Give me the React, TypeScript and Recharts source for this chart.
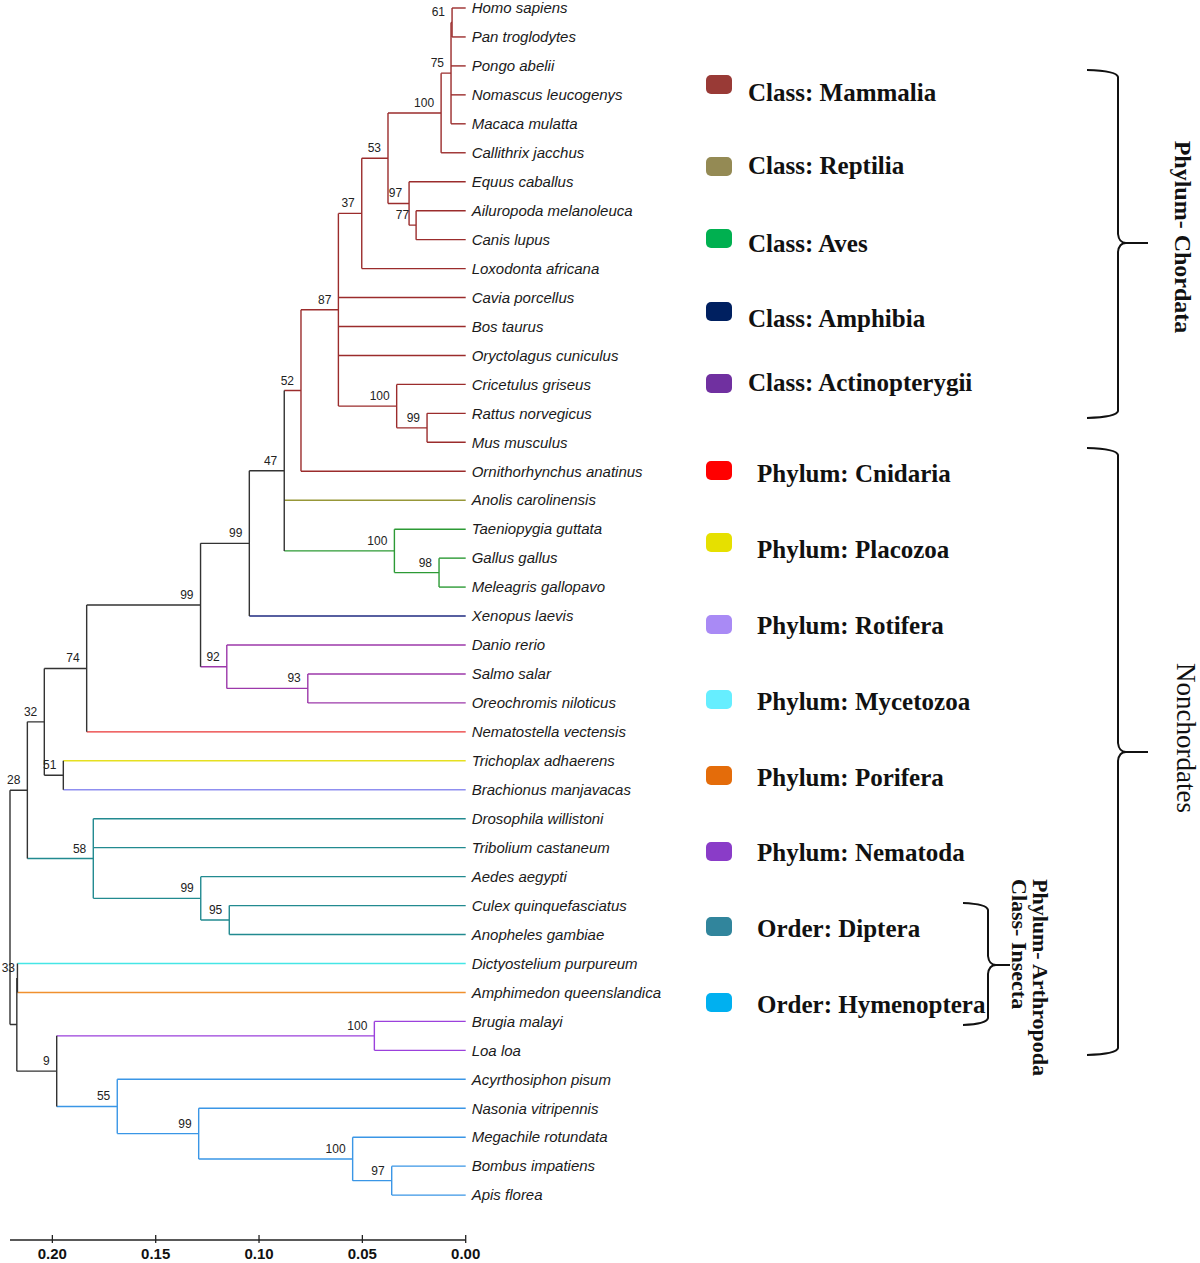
import React from "react";
import { ComposedChart, Line, Scatter, XAxis, YAxis } from "recharts";

// tips, top to bottom
const LEAF_NAMES = [
  "Homo sapiens", "Pan troglodytes", "Pongo abelii", "Nomascus leucogenys",
  "Macaca mulatta", "Callithrix jacchus", "Equus caballus", "Ailuropoda melanoleuca",
  "Canis lupus", "Loxodonta africana", "Cavia porcellus", "Bos taurus",
  "Oryctolagus cuniculus", "Cricetulus griseus", "Rattus norvegicus", "Mus musculus",
  "Ornithorhynchus anatinus", "Anolis carolinensis", "Taeniopygia guttata", "Gallus gallus",
  "Meleagris gallopavo", "Xenopus laevis", "Danio rerio", "Salmo salar",
  "Oreochromis niloticus", "Nematostella vectensis", "Trichoplax adhaerens", "Brachionus manjavacas",
  "Drosophila willistoni", "Tribolium castaneum", "Aedes aegypti", "Culex quinquefasciatus",
  "Anopheles gambiae", "Dictyostelium purpureum", "Amphimedon queenslandica", "Brugia malayi",
  "Loa loa", "Acyrthosiphon pisum", "Nasonia vitripennis", "Megachile rotundata",
  "Bombus impatiens", "Apis florea",
];

const LEAF_GROUPS = [
  "mam", "mam", "mam", "mam", "mam", "mam", "mam", "mam", "mam", "mam",
  "mam", "mam", "mam", "mam", "mam", "mam", "mam", "rep", "ave", "ave",
  "ave", "amp", "fish", "fish", "fish", "cni", "pla", "rot", "dip", "dip",
  "dip", "dip", "dip", "myc", "por", "nem", "nem", "hym", "hym", "hym",
  "hym", "hym",
];

// internal nodes (children first): id, children top->bottom, distance, bootstrap, group
const CLADES: [string, string[], number, string, string][] = [
  ["n61", ["Homo sapiens", "Pan troglodytes"], 0.0066, "61", "mam"],
  ["n75", ["n61", "Pongo abelii", "Nomascus leucogenys", "Macaca mulatta"], 0.0071, "75", "mam"],
  ["n100a", ["n75", "Callithrix jacchus"], 0.0119, "100", "mam"],
  ["n77", ["Ailuropoda melanoleuca", "Canis lupus"], 0.024, "77", "mam"],
  ["n97", ["Equus caballus", "n77"], 0.0274, "97", "mam"],
  ["n53", ["n100a", "n97"], 0.0376, "53", "mam"],
  ["n37", ["n53", "Loxodonta africana"], 0.0503, "37", "mam"],
  ["n99r", ["Rattus norvegicus", "Mus musculus"], 0.0187, "99", "mam"],
  ["n100r", ["Cricetulus griseus", "n99r"], 0.0334, "100", "mam"],
  ["n87", ["n37", "Cavia porcellus", "Bos taurus", "Oryctolagus cuniculus", "n100r"], 0.0616, "87", "mam"],
  ["n52", ["n87", "Ornithorhynchus anatinus"], 0.0797, "52", "mam"],
  ["n98", ["Gallus gallus", "Meleagris gallopavo"], 0.0129, "98", "ave"],
  ["n100b", ["Taeniopygia guttata", "n98"], 0.0345, "100", "ave"],
  ["n47", ["n52", "Anolis carolinensis", "n100b"], 0.0878, "47", "base"],
  ["n99a", ["n47", "Xenopus laevis"], 0.1047, "99", "base"],
  ["n93", ["Salmo salar", "Oreochromis niloticus"], 0.0764, "93", "fish"],
  ["n92", ["Danio rerio", "n93"], 0.1156, "92", "fish"],
  ["n99b", ["n99a", "n92"], 0.1283, "99", "base"],
  ["n74", ["n99b", "Nematostella vectensis"], 0.1834, "74", "base"],
  ["n51", ["Trichoplax adhaerens", "Brachionus manjavacas"], 0.1947, "51", "base"],
  ["n32", ["n74", "n51"], 0.2039, "32", "base"],
  ["n95", ["Culex quinquefasciatus", "Anopheles gambiae"], 0.1144, "95", "dip"],
  ["n99d", ["Aedes aegypti", "n95"], 0.1282, "99", "dip"],
  ["n58", ["Drosophila willistoni", "Tribolium castaneum", "n99d"], 0.1802, "58", "dip"],
  ["n28", ["n32", "n58"], 0.2121, "28", "base"],
  ["n33", ["Dictyostelium purpureum", "Amphimedon queenslandica"], 0.2169, "33", "base"],
  ["n100n", ["Brugia malayi", "Loa loa"], 0.0442, "100", "nem"],
  ["n97h", ["Bombus impatiens", "Apis florea"], 0.0358, "97", "hym"],
  ["n100h", ["Megachile rotundata", "n97h"], 0.0547, "100", "hym"],
  ["n99h", ["Nasonia vitripennis", "n100h"], 0.1292, "99", "hym"],
  ["n55", ["Acyrthosiphon pisum", "n99h"], 0.1686, "55", "hym"],
  ["n9", ["n100n", "n55"], 0.1979, "9", "base"],
  ["nX", ["n33", "n9"], 0.2172, "", "base"],
  ["root", ["n28", "nX"], 0.2205, "", "base"],
];

const AXIS_TICKS = [0, 0.05, 0.1, 0.15, 0.2];

const LEGEND_LABELS = [
  "Class: Mammalia", "Class: Reptilia", "Class: Aves", "Class: Amphibia",
  "Class: Actinopterygii", "Phylum: Cnidaria", "Phylum: Placozoa", "Phylum: Rotifera",
  "Phylum: Mycetozoa", "Phylum: Porifera", "Phylum: Nematoda", "Order: Diptera",
  "Order: Hymenoptera",
];
const LEGEND_COLORS = [
  "#993a36", "#948a54", "#00b050", "#002060", "#7030a0", "#ff0000", "#e6e000",
  "#a98af5", "#66eeff", "#e46c0a", "#8a3cc8", "#31859c", "#00b0f0",
];

// layout for the legend column (px)
const LEGEND_TEXT_Y = [93, 166, 244, 319, 383, 474, 550, 626, 702, 778, 853, 929, 1005];
const LEGEND_SWATCH_Y = [84, 166, 238, 311, 383, 470, 542, 624, 699, 775, 851, 926, 1002];

const BRANCH_COLORS: Record<string, string> = {
  mam: "#9b2c2c",
  rep: "#979738",
  ave: "#2c9a35",
  amp: "#1f2a80",
  fish: "#9c38aa",
  cni: "#ea3535",
  pla: "#e6e020",
  rot: "#8f8ff0",
  myc: "#45e6e6",
  por: "#f0902e",
  nem: "#9b40dc",
  dip: "#228a90",
  hym: "#3a96e6",
  base: "#333333",
};

type TreeNode = { id: string; x: number; y: number; group: string; support: string; kids?: string[] };

function buildTree() {
  const nodes: Record<string, TreeNode> = {};
  const parent: Record<string, string> = {};
  LEAF_NAMES.forEach((name, i) => {
    nodes[name] = { id: name, x: 0, y: i, group: LEAF_GROUPS[i], support: "" };
  });
  for (const [id, kids, dist, support, group] of CLADES) {
    const first = nodes[kids[0]].y;
    const last = nodes[kids[kids.length - 1]].y;
    nodes[id] = { id, x: dist, y: (first + last) / 2, group, support, kids };
    kids.forEach((k) => (parent[k] = id));
  }
  const segments = Object.values(nodes).map((n) => {
    const pts: { x: number; y: number }[] = [];
    const p = parent[n.id] ? nodes[parent[n.id]] : null;
    if (p) pts.push({ x: p.x, y: n.y }, { x: n.x, y: n.y });
    if (n.kids) {
      pts.push(
        { x: n.x, y: nodes[n.kids[0]].y },
        { x: n.x, y: nodes[n.kids[n.kids.length - 1]].y }
      );
    }
    return { id: n.id, color: BRANCH_COLORS[n.group], pts };
  });
  const supports = Object.values(nodes)
    .filter((n) => n.support !== "")
    .map((n) => ({ x: n.x, y: n.y, label: n.support }));
  return { segments, supports };
}

const { segments, supports } = buildTree();

const LeafTick = (props: any) => (
  <text
    x={props.x}
    y={props.y}
    dy="0.35em"
    fontFamily="'Liberation Sans', Arial, sans-serif"
    fontStyle="italic"
    fontSize={15}
    fill="#1a1a1a"
  >
    {LEAF_NAMES[props.payload.value]}
  </text>
);

const DistTick = (props: any) => (
  <g>
    <line x1={props.x} x2={props.x} y1={props.y - 5} y2={props.y + 3} stroke="#222" strokeWidth={1.3} />
    <text
      x={props.x}
      y={props.y + 18.7}
      textAnchor="middle"
      fontFamily="'Liberation Sans', Arial, sans-serif"
      fontWeight="bold"
      fontSize={15}
      fill="#111"
    >
      {Number(props.payload.value).toFixed(2)}
    </text>
  </g>
);

// bootstrap values sit up-left of their node; keep the leftmost ones on the page
const SupportLabel = (props: any) => (
  <text
    x={Math.max(props.cx - 7, 15)}
    y={props.cy - 6}
    textAnchor="end"
    fontFamily="'Liberation Sans', Arial, sans-serif"
    fontSize={12}
    fill="#222"
  >
    {props.payload.label}
  </text>
);

function bracePath(x0: number, xv: number, xt: number, top: number, mid: number, bot: number) {
  return [
    `M ${x0} ${top} Q ${xv - 1} ${top + 1} ${xv} ${top + 7}`,
    `L ${xv} ${mid - 9} Q ${xv + 1} ${mid} ${xv + 8} ${mid} L ${xt} ${mid}`,
    `M ${xv + 8} ${mid} Q ${xv + 1} ${mid} ${xv} ${mid + 9}`,
    `L ${xv} ${bot - 7} Q ${xv - 1} ${bot - 1} ${x0} ${bot}`,
  ].join(" ");
}

const serif = "'Liberation Serif', 'Times New Roman', serif";

export default function App() {
  return (
    <div style={{ position: "absolute", left: 0, top: 0, width: 1200, height: 1263, background: "#fff" }}>
      <ComposedChart width={1200} height={1263} margin={{ top: 8, right: 0, bottom: 0, left: 10 }}>
        <XAxis
          type="number"
          dataKey="x"
          domain={[0, 0.2205]}
          reversed
          ticks={AXIS_TICKS}
          interval={0}
          height={23}
          tickSize={0}
          tickMargin={0}
          tickLine={false}
          axisLine={{ stroke: "#222", strokeWidth: 1.3 }}
          tick={DistTick}
        />
        <YAxis
          type="number"
          dataKey="y"
          orientation="right"
          domain={[0, 42.55]}
          reversed
          ticks={LEAF_NAMES.map((_, i) => i)}
          interval={0}
          width={734.3}
          tickSize={0}
          tickMargin={6}
          tickLine={false}
          axisLine={false}
          tick={LeafTick}
        />
        {segments.map((s) => (
          <Line
            key={s.id}
            data={s.pts}
            dataKey="y"
            type="linear"
            stroke={s.color}
            strokeWidth={1.4}
            dot={false}
            activeDot={false}
            legendType="none"
            isAnimationActive={false}
          />
        ))}
        <Scatter data={supports} shape={SupportLabel} isAnimationActive={false} />
      </ComposedChart>

      {LEGEND_LABELS.map((label, i) => (
        <React.Fragment key={label}>
          <div
            style={{
              position: "absolute",
              left: 706,
              top: LEGEND_SWATCH_Y[i] - 9.5,
              width: 26,
              height: 19,
              borderRadius: 5,
              background: LEGEND_COLORS[i],
            }}
          />
          <div
            style={{
              position: "absolute",
              left: i < 5 ? 748 : 757,
              top: LEGEND_TEXT_Y[i] - 15,
              height: 30,
              lineHeight: "30px",
              fontFamily: serif,
              fontWeight: "bold",
              fontSize: 25,
              color: "#111",
              whiteSpace: "nowrap",
            }}
          >
            {label}
          </div>
        </React.Fragment>
      ))}

      <svg
        width={1200}
        height={1263}
        style={{ position: "absolute", left: 0, top: 0, pointerEvents: "none" }}
      >
        <g fill="none" stroke="#111" strokeWidth={2}>
          <path d={bracePath(1087, 1118, 1148, 70, 243, 418)} />
          <path d={bracePath(1087, 1118, 1148, 448, 752, 1055)} />
          <path d={bracePath(963, 988, 1010, 903, 965, 1025)} />
        </g>
        <text
          transform="translate(1183 237) rotate(90)"
          textAnchor="middle"
          dominantBaseline="central"
          fontFamily={serif}
          fontWeight="bold"
          fontSize={24}
          fill="#111"
        >
          Phylum- Chordata
        </text>
        <text
          transform="translate(1186 738) rotate(90)"
          textAnchor="middle"
          dominantBaseline="central"
          fontFamily={serif}
          fontSize={27}
          fill="#111"
        >
          Nonchordates
        </text>
        <text
          transform="translate(1040 879) rotate(90)"
          dominantBaseline="central"
          fontFamily={serif}
          fontWeight="bold"
          fontSize={22}
          fill="#111"
        >
          Phylum- Arthropoda
        </text>
        <text
          transform="translate(1019 879) rotate(90)"
          dominantBaseline="central"
          fontFamily={serif}
          fontWeight="bold"
          fontSize={22}
          fill="#111"
        >
          Class- Insecta
        </text>
      </svg>
    </div>
  );
}
